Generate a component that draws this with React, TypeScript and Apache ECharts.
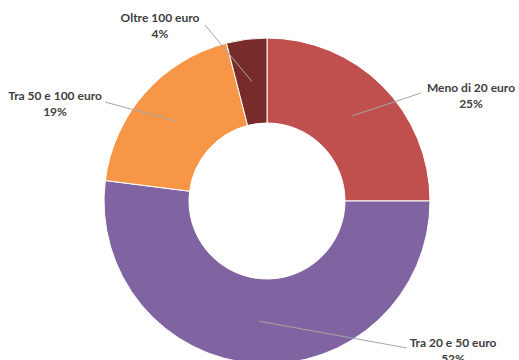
import React, { useEffect, useRef } from "react";
import * as echarts from "echarts";

const categories = ["Meno di 20 euro", "Tra 20 e 50 euro", "Tra 50 e 100 euro", "Oltre 100 euro"];
const values = [25, 52, 19, 4];
const colors = ["#C0504D", "#8064A2", "#F79646", "#772C2A"];

// label layout (center of label box, and end point of the leader line)
const labelCenters: [number, number][] = [
  [471, 95],
  [453, 350],
  [55, 103],
  [160, 25],
];
const lineEnds: [number, number][] = [
  [421, 93],
  [407, 348],
  [105, 102],
  [205, 25],
];

const CX = 267;
const CY = 201;
const R_IN = 78;
const R_OUT = 163;

export default function App() {
  const ref = useRef<HTMLDivElement>(null);
  useEffect(() => {
    if (!ref.current) return;
    const chart = echarts.init(ref.current, undefined, { renderer: "svg" });
    const total = values.reduce((a, b) => a + b, 0);
    const rMid = (R_IN + R_OUT) / 2;
    let cum = 0;
    const lines = values.map((v, i) => {
      const mid = (cum + v / 2) / total;
      cum += v;
      const ang = mid * Math.PI * 2;
      const x1 = CX + Math.sin(ang) * rMid;
      const y1 = CY - Math.cos(ang) * rMid;
      return {
        type: "line",
        z: 100,
        silent: true,
        shape: { x1, y1, x2: lineEnds[i][0], y2: lineEnds[i][1] },
        style: { stroke: "#a6a6a6", lineWidth: 1 },
      };
    });
    chart.setOption({
      animation: false,
      backgroundColor: "#ffffff",
      graphic: lines,
      series: [
        {
          type: "pie",
          center: [CX, CY],
          radius: [R_IN, R_OUT],
          startAngle: 90,
          clockwise: true,
          avoidLabelOverlap: false,
          itemStyle: { borderColor: "#ffffff", borderWidth: 1 },
          label: {
            show: true,
            formatter: "{b}\n{d}%",
            fontFamily: "Lato",
            fontWeight: "bold",
            fontSize: 12,
            lineHeight: 16,
            color: "#404040",
            align: "center",
          },
          labelLine: { show: false },
          labelLayout: (params: any) => {
            const c = labelCenters[params.dataIndex];
            return { x: c[0], y: c[1], align: "center", verticalAlign: "middle" };
          },
          data: categories.map((name, i) => ({
            name,
            value: values[i],
            itemStyle: { color: colors[i] },
          })),
        },
      ],
    });
    return () => chart.dispose();
  }, []);
  return (
    <div
      ref={ref}
      style={{ position: "fixed", left: 0, top: 0, width: 519, height: 360 }}
    />
  );
}
